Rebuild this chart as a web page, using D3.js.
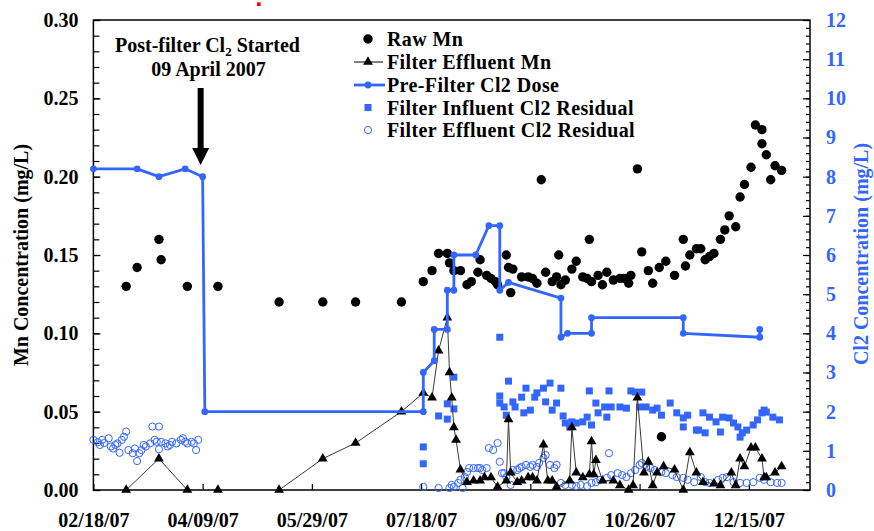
<!DOCTYPE html>
<html>
<head>
<meta charset="utf-8" />
<title>Mn and Cl2 Concentrations (2007)</title>
<style type="text/css">
  body { margin: 0; background: #fff; }
  svg text { font-family: 'Liberation Serif', 'Times New Roman', serif; font-weight: bold; }
</style>
</head>
<body>
<div id="graph"></div>
<script src="https://cdn.jsdelivr.net/npm/d3@7/dist/d3.min.js"></script>
<script>
// ---- data ----
var tickDates = ["02/18/07", "04/09/07", "05/29/07", "07/18/07", "09/06/07", "10/26/07", "12/15/07"];
var legendNames = ["Raw Mn", "Filter Effluent Mn", "Pre-Filter Cl2 Dose", "Filter Influent Cl2 Residual", "Filter Effluent Cl2 Residual"];

var rawMn = [
  ["03/05/07",0.130],["03/10/07",0.142],["03/20/07",0.160],["03/21/07",0.147],["04/02/07",0.130],["04/16/07",0.130],
  ["05/14/07",0.120],["06/03/07",0.120],["06/18/07",0.120],["07/09/07",0.120],["07/19/07",0.133],["07/23/07",0.140],
  ["07/26/07",0.151],["07/30/07",0.151],["07/31/07",0.145],["08/02/07",0.140],["08/05/07",0.140],["08/08/07",0.131],
  ["08/10/07",0.133],["08/13/07",0.139],["08/14/07",0.147],["08/17/07",0.137],["08/19/07",0.135],["08/21/07",0.133],
  ["08/22/07",0.131],["08/26/07",0.150],["08/27/07",0.142],["08/28/07",0.126],["08/29/07",0.141],["09/02/07",0.136],
  ["09/05/07",0.136],["09/07/07",0.135],["09/09/07",0.132],["09/11/07",0.198],["09/13/07",0.139],["09/16/07",0.133],
  ["09/18/07",0.136],["09/19/07",0.150],["09/20/07",0.131],["09/22/07",0.134],["09/25/07",0.141],["09/27/07",0.146],
  ["09/30/07",0.136],["10/02/07",0.135],["10/03/07",0.160],["10/04/07",0.133],["10/07/07",0.137],["10/09/07",0.131],
  ["10/11/07",0.139],["10/14/07",0.134],["10/17/07",0.135],["10/19/07",0.135],["10/21/07",0.132],["10/22/07",0.137],
  ["10/25/07",0.205],["10/27/07",0.152],["10/30/07",0.140],["11/01/07",0.132],["11/04/07",0.142],["11/05/07",0.034],
  ["11/07/07",0.146],["11/11/07",0.137],["11/15/07",0.160],["11/16/07",0.143],["11/18/07",0.150],["11/21/07",0.154],
  ["11/23/07",0.154],["11/25/07",0.147],["11/27/07",0.149],["11/29/07",0.151],["12/02/07",0.160],["12/04/07",0.166],
  ["12/06/07",0.175],["12/09/07",0.168],["12/11/07",0.187],["12/13/07",0.195],["12/16/07",0.206],["12/18/07",0.233],
  ["12/21/07",0.230],["12/21/07",0.221],["12/23/07",0.214],["12/25/07",0.198],["12/27/07",0.207],["12/30/07",0.204]
];

var effluentMn = [
  ["03/05/07",0],["03/20/07",0.020],["04/02/07",0],["04/16/07",0],["05/14/07",0],["06/03/07",0.020],["06/18/07",0.030],
  ["07/09/07",0.050],["07/19/07",0.062],["07/23/07",0.059],["07/26/07",0.089],["07/30/07",0.110],["07/31/07",0.075],
  ["08/01/07",0.059],["08/02/07",0.040],["08/03/07",0.032],["08/05/07",0.013],["08/08/07",0.005],["08/11/07",0.006],
  ["08/14/07",0.006],["08/16/07",0.008],["08/19/07",0.008],["08/22/07",0.002],["08/26/07",0.006],["08/27/07",0.045],
  ["08/28/07",0.011],["08/31/07",0.005],["09/02/07",0.006],["09/05/07",0.008],["09/07/07",0.008],["09/09/07",0.006],
  ["09/12/07",0.029],["09/14/07",0.006],["09/16/07",0.006],["09/18/07",0.002],["09/24/07",0.006],["09/25/07",0.040],
  ["09/27/07",0.011],["09/30/07",0.008],["10/03/07",0.010],["10/04/07",0.031],["10/05/07",0.010],["10/06/07",0.019],
  ["10/09/07",0.006],["10/14/07",0.006],["10/17/07",0.003],["10/21/07",0],["10/23/07",0.003],["10/25/07",0.059],
  ["10/28/07",0.011],["10/30/07",0.018],["11/01/07",0.003],["11/03/07",0.011],["11/06/07",0.015],["11/11/07",0.013],
  ["11/15/07",0],["11/18/07",0.024],["11/21/07",0.011],["11/24/07",0.005],["11/29/07",0.004],["12/02/07",0.003],
  ["12/07/07",0.011],["12/09/07",0.003],["12/11/07",0.020],["12/13/07",0.015],["12/16/07",0.027],["12/18/07",0.027],
  ["12/21/07",0.020],["12/22/07",0.008],["12/23/07",0.008],["12/27/07",0.011],["12/30/07",0.015]
];

var preFilterDose = [
  ["02/18/07",8.2],["03/10/07",8.2],["03/20/07",8.0],["04/01/07",8.2],["04/09/07",8.0],["04/10/07",2.0],
  ["07/19/07",2.0],["07/19/07",3.0],["07/24/07",3.3],["07/24/07",4.1],["07/30/07",4.1],["07/30/07",5.1],
  ["08/02/07",5.1],["08/02/07",6.0],["08/12/07",6.0],["08/18/07",6.75],["08/23/07",6.75],["08/23/07",5.1],
  ["08/27/07",5.3],["09/20/07",4.9],["09/20/07",3.9],["09/23/07",4.0],["10/04/07",4.0],["10/04/07",4.4],
  ["11/15/07",4.4],["11/15/07",4.0],["12/20/07",3.9],["12/20/07",4.1]
];

var influentCl2 = [
  ["07/19/07",1.10],["07/19/07",0.67],["07/26/07",1.89],["07/30/07",1.81],["07/30/07",2.20],["08/02/07",2.07],
  ["08/02/07",2.88],["08/23/07",3.90],["08/23/07",2.40],["08/23/07",2.22],["08/25/07",2.12],["08/26/07",1.91],
  ["08/27/07",2.78],["08/29/07",2.25],["08/30/07",2.12],["09/02/07",2.37],["09/03/07",1.97],["09/04/07",2.60],
  ["09/06/07",2.04],["09/08/07",2.37],["09/09/07",2.48],["09/12/07",2.60],["09/13/07",2.25],["09/15/07",2.73],
  ["09/16/07",2.04],["09/18/07",2.22],["09/20/07",2.60],["09/21/07",1.89],["09/22/07",1.71],["09/24/07",1.61],
  ["09/25/07",1.74],["09/27/07",1.71],["09/30/07",1.74],["10/02/07",1.86],["10/03/07",2.53],["10/04/07",1.66],
  ["10/06/07",2.22],["10/07/07",1.97],["10/10/07",2.12],["10/11/07",1.86],["10/12/07",2.53],["10/13/07",2.12],
  ["10/17/07",2.12],["10/20/07",2.09],["10/22/07",2.53],["10/24/07",2.50],["10/26/07",2.12],["10/27/07",2.50],
  ["10/29/07",2.12],["11/01/07",2.04],["11/03/07",2.09],["11/05/07",1.91],["11/09/07",2.22],["11/12/07",1.97],
  ["11/15/07",1.84],["11/15/07",1.61],["11/17/07",1.91],["11/21/07",1.53],["11/22/07",1.53],["11/24/07",1.97],
  ["11/25/07",1.46],["11/27/07",1.86],["11/30/07",1.74],["12/02/07",1.48],["12/03/07",1.86],["12/06/07",1.84],
  ["12/08/07",1.71],["12/10/07",1.61],["12/11/07",1.35],["12/12/07",1.46],["12/14/07",1.53],["12/17/07",1.66],
  ["12/19/07",1.79],["12/21/07",1.97],["12/22/07",2.04],["12/23/07",1.99],["12/26/07",1.86],["12/29/07",1.79]
];

var effluentCl2 = [
  ["02/18/07",1.28],["02/20/07",1.22],["02/21/07",1.15],["02/22/07",1.28],["02/23/07",1.20],["02/25/07",1.32],
  ["02/26/07",1.11],["02/27/07",1.06],["02/28/07",1.15],["03/01/07",1.19],["03/02/07",0.95],["03/03/07",1.28],
  ["03/04/07",1.36],["03/05/07",1.49],["03/06/07",1.02],["03/08/07",0.94],["03/09/07",1.06],["03/10/07",0.74],
  ["03/11/07",0.94],["03/12/07",1.02],["03/13/07",1.15],["03/14/07",1.11],["03/16/07",1.19],["03/17/07",1.62],
  ["03/18/07",1.28],["03/19/07",1.23],["03/20/07",1.62],["03/20/07",1.04],["03/21/07",1.23],["03/23/07",1.19],
  ["03/24/07",1.11],["03/25/07",1.15],["03/26/07",1.23],["03/28/07",1.19],["03/30/07",1.28],["03/31/07",1.32],
  ["04/01/07",1.23],["04/02/07",1.19],["04/04/07",1.23],["04/05/07",1.19],["04/06/07",1.02],["04/07/07",1.28],
  ["07/19/07",0.08],["07/26/07",0.05],["07/31/07",0.05],["08/01/07",0.13],["08/02/07",0.08],["08/04/07",0.18],
  ["08/05/07",0.26],["08/06/07",0.05],["08/07/07",0.33],["08/08/07",0.46],["08/09/07",0.56],["08/11/07",0.56],
  ["08/13/07",0.56],["08/14/07",0.56],["08/15/07",0.51],["08/17/07",0.56],["08/18/07",1.07],["08/20/07",1.02],
  ["08/22/07",1.20],["08/23/07",0.72],["08/24/07",0.43],["08/25/07",0.43],["08/26/07",0.33],["08/28/07",0.13],
  ["08/29/07",0.51],["08/31/07",0.51],["09/01/07",0.56],["09/02/07",0.59],["09/04/07",0.64],["09/06/07",0.59],
  ["09/07/07",0.64],["09/09/07",0.59],["09/10/07",0.69],["09/12/07",0.82],["09/13/07",0.89],["09/15/07",0.64],
  ["09/17/07",0.56],["09/18/07",0.64],["09/20/07",0.18],["09/22/07",0.13],["09/25/07",0.13],["09/27/07",0.10],
  ["09/29/07",0.13],["10/02/07",0.10],["10/04/07",0.18],["10/06/07",0.20],["10/08/07",0.26],["10/11/07",0.31],
  ["10/12/07",0.94],["10/13/07",0.38],["10/16/07",0.43],["10/18/07",0.38],["10/20/07",0.33],["10/22/07",0.43],
  ["10/24/07",0.51],["10/26/07",0.64],["10/27/07",0.69],["10/29/07",0.59],["10/31/07",0.56],["11/02/07",0.51],
  ["11/05/07",0.46],["11/07/07",0.43],["11/10/07",0.38],["11/12/07",0.33],["11/15/07",0.31],["11/17/07",0.26],
  ["11/20/07",0.20],["11/23/07",0.33],["11/25/07",0.20],["11/27/07",0.18],["12/01/07",0.26],["12/03/07",0.31],
  ["12/05/07",0.33],["12/08/07",0.20],["12/11/07",0.18],["12/14/07",0.18],["12/17/07",0.20],["12/20/07",0.31],
  ["12/22/07",0.26],["12/25/07",0.20],["12/28/07",0.18],["12/30/07",0.18]
];

// ---- setup ----
var blue = "#3366ff";
var parseDate = d3.timeParse("%m/%d/%y");
var margin = {top: 20, right: 64, bottom: 41, left: 93.4},
    width = 874 - margin.left - margin.right,
    height = 531 - margin.top - margin.bottom;

var x = d3.scaleTime()
    .domain([parseDate("02/18/07"), parseDate("01/12/08")])
    .range([0, width]);
var yL = d3.scaleLinear().domain([0, 0.30]).range([height, 0]);
var yR = d3.scaleLinear().domain([0, 12]).range([height, 0]);

var svg = d3.select("#graph").append("svg")
    .attr("width", 874)
    .attr("height", 531);

// small red mark at the top of the original figure
svg.append("rect").attr("x", 257).attr("y", 2.3).attr("width", 3.6).attr("height", 3.7).attr("fill", "#ff0000");

var g = svg.append("g")
    .attr("transform", "translate(" + margin.left + "," + margin.top + ")");

// ---- axes ----
function styleAxis(sel, color) {
  sel.attr("font-size", 20).attr("font-family", "'Liberation Serif', serif").attr("font-weight", "bold");
  sel.select(".domain").remove();
  sel.selectAll("line").attr("stroke", "#000").attr("stroke-width", 1.2);
  sel.selectAll("text").attr("fill", color);
}

// minor ticks
g.append("g")
    .call(d3.axisLeft(yL).tickValues(d3.range(0, 31).map(function(i) { return i / 100; }))
      .tickSizeInner(-6).tickSizeOuter(0).tickFormat(""))
    .call(styleAxis, "#000");
g.append("g")
    .attr("transform", "translate(" + width + ",0)")
    .call(d3.axisRight(yR).tickValues(d3.range(0, 61).map(function(i) { return i / 5; }))
      .tickSizeInner(-4).tickSizeOuter(0).tickFormat(""))
    .call(styleAxis, blue);

// major ticks with labels
g.append("g")
    .call(d3.axisLeft(yL).tickValues(d3.range(0, 7).map(function(i) { return i * 0.05; }))
      .tickSizeInner(-7).tickSizeOuter(0).tickPadding(15).tickFormat(d3.format(".2f")))
    .call(styleAxis, "#000");
g.append("g")
    .attr("transform", "translate(" + width + ",0)")
    .call(d3.axisRight(yR).tickValues(d3.range(0, 13))
      .tickSizeInner(-7).tickSizeOuter(0).tickPadding(16).tickFormat(d3.format("d")))
    .call(styleAxis, blue);
g.append("g")
    .attr("transform", "translate(0," + height + ")")
    .call(d3.axisBottom(x).tickValues(tickDates.map(parseDate))
      .tickSizeInner(-6).tickSizeOuter(0).tickPadding(23).tickFormat(d3.timeFormat("%m/%d/%y")))
    .call(styleAxis, "#000");

// frame
g.append("rect")
    .attr("width", width).attr("height", height)
    .attr("fill", "none").attr("stroke", "#000").attr("stroke-width", 1.5);

// axis titles
svg.append("text")
    .attr("transform", "translate(28,255) rotate(-90)")
    .attr("text-anchor", "middle").attr("font-size", 20).attr("fill", "#000")
    .text("Mn Concentration (mg/L)");
svg.append("text")
    .attr("transform", "translate(868,254) rotate(-90)")
    .attr("text-anchor", "middle").attr("font-size", 20).attr("fill", blue)
    .text("Cl2 Concentration (mg/L)");

// ---- series ----
function px(d) { return x(parseDate(d[0])); }

// filter influent Cl2 residual (squares)
g.append("g").selectAll("rect")
    .data(influentCl2)
  .enter().append("rect")
    .attr("x", function(d) { return px(d) - 3.5; })
    .attr("y", function(d) { return yR(d[1]) - 3.5; })
    .attr("width", 7).attr("height", 7)
    .attr("fill", blue);

// filter effluent Cl2 residual (open circles)
g.append("g").selectAll("circle")
    .data(effluentCl2)
  .enter().append("circle")
    .attr("cx", px)
    .attr("cy", function(d) { return yR(d[1]); })
    .attr("r", 3.6)
    .attr("fill", "none").attr("stroke", blue).attr("stroke-width", 1);

// raw Mn
g.append("g").selectAll("circle")
    .data(rawMn)
  .enter().append("circle")
    .attr("cx", px)
    .attr("cy", function(d) { return yL(d[1]); })
    .attr("r", 4.7)
    .attr("fill", "#000");

// filter effluent Mn
var mnLine = d3.line().x(px).y(function(d) { return yL(d[1]); });
g.append("path")
    .datum(effluentMn)
    .attr("d", mnLine)
    .attr("fill", "none").attr("stroke", "#3a3a3a").attr("stroke-width", 1);
var tri = d3.symbol().type(d3.symbolTriangle).size(42);
g.append("g").selectAll("path")
    .data(effluentMn)
  .enter().append("path")
    .attr("d", tri)
    .attr("transform", function(d) { return "translate(" + px(d) + "," + yL(d[1]) + ")"; })
    .attr("fill", "#000");

// pre-filter Cl2 dose
var doseLine = d3.line().x(px).y(function(d) { return yR(d[1]); });
g.append("path")
    .datum(preFilterDose)
    .attr("d", doseLine)
    .attr("fill", "none").attr("stroke", blue).attr("stroke-width", 2.8)
    .attr("stroke-linejoin", "round");
g.append("g").selectAll("circle")
    .data(preFilterDose)
  .enter().append("circle")
    .attr("cx", px)
    .attr("cy", function(d) { return yR(d[1]); })
    .attr("r", 3.4)
    .attr("fill", blue);

// ---- legend ----
var legend = svg.append("g");
var rowY = [39, 62, 85, 107.5, 130];
legendNames.forEach(function(name, i) {
  var cy = rowY[i], mx = 368;
  if (i === 0) {
    legend.append("circle").attr("cx", mx).attr("cy", cy).attr("r", 4.7).attr("fill", "#000");
  } else if (i === 1) {
    legend.append("line").attr("x1", 354).attr("x2", 383).attr("y1", cy).attr("y2", cy)
      .attr("stroke", "#000").attr("stroke-width", 1);
    legend.append("path").attr("d", tri).attr("transform", "translate(" + mx + "," + cy + ")").attr("fill", "#000");
  } else if (i === 2) {
    legend.append("line").attr("x1", 354).attr("x2", 385).attr("y1", cy).attr("y2", cy)
      .attr("stroke", blue).attr("stroke-width", 2.8);
    legend.append("circle").attr("cx", mx).attr("cy", cy).attr("r", 3.4).attr("fill", blue);
  } else if (i === 3) {
    legend.append("rect").attr("x", mx - 3.5).attr("y", cy - 3.5).attr("width", 7).attr("height", 7).attr("fill", blue);
  } else {
    legend.append("circle").attr("cx", mx).attr("cy", cy).attr("r", 3.6)
      .attr("fill", "none").attr("stroke", blue).attr("stroke-width", 1);
  }
  legend.append("text")
    .attr("x", 387).attr("y", cy).attr("dy", "0.35em")
    .attr("font-size", 20).attr("letter-spacing", 0.4).attr("fill", "#000")
    .text(name);
});

// ---- annotation ----
var note = svg.append("text")
    .attr("x", 207.5).attr("y", 52)
    .attr("text-anchor", "middle").attr("font-size", 20).attr("fill", "#000");
note.append("tspan").text("Post-filter Cl");
note.append("tspan").attr("font-size", 13).attr("dy", 4).text("2");
note.append("tspan").attr("dy", -4).text(" Started");
svg.append("text")
    .attr("x", 208.5).attr("y", 76)
    .attr("text-anchor", "middle").attr("font-size", 20).attr("fill", "#000")
    .text("09 April 2007");

var ax = x(parseDate("04/09/07")) + margin.left - 2;
svg.append("path")
    .attr("d", "M" + (ax - 3) + ",88 L" + (ax + 3) + ",88 L" + (ax + 3) + ",148 L" + (ax + 8.5) + ",148 L" + ax + ",165 L" +
          (ax - 8.5) + ",148 L" + (ax - 3) + ",148 Z")
    .attr("fill", "#000");
</script>
</body>
</html>
